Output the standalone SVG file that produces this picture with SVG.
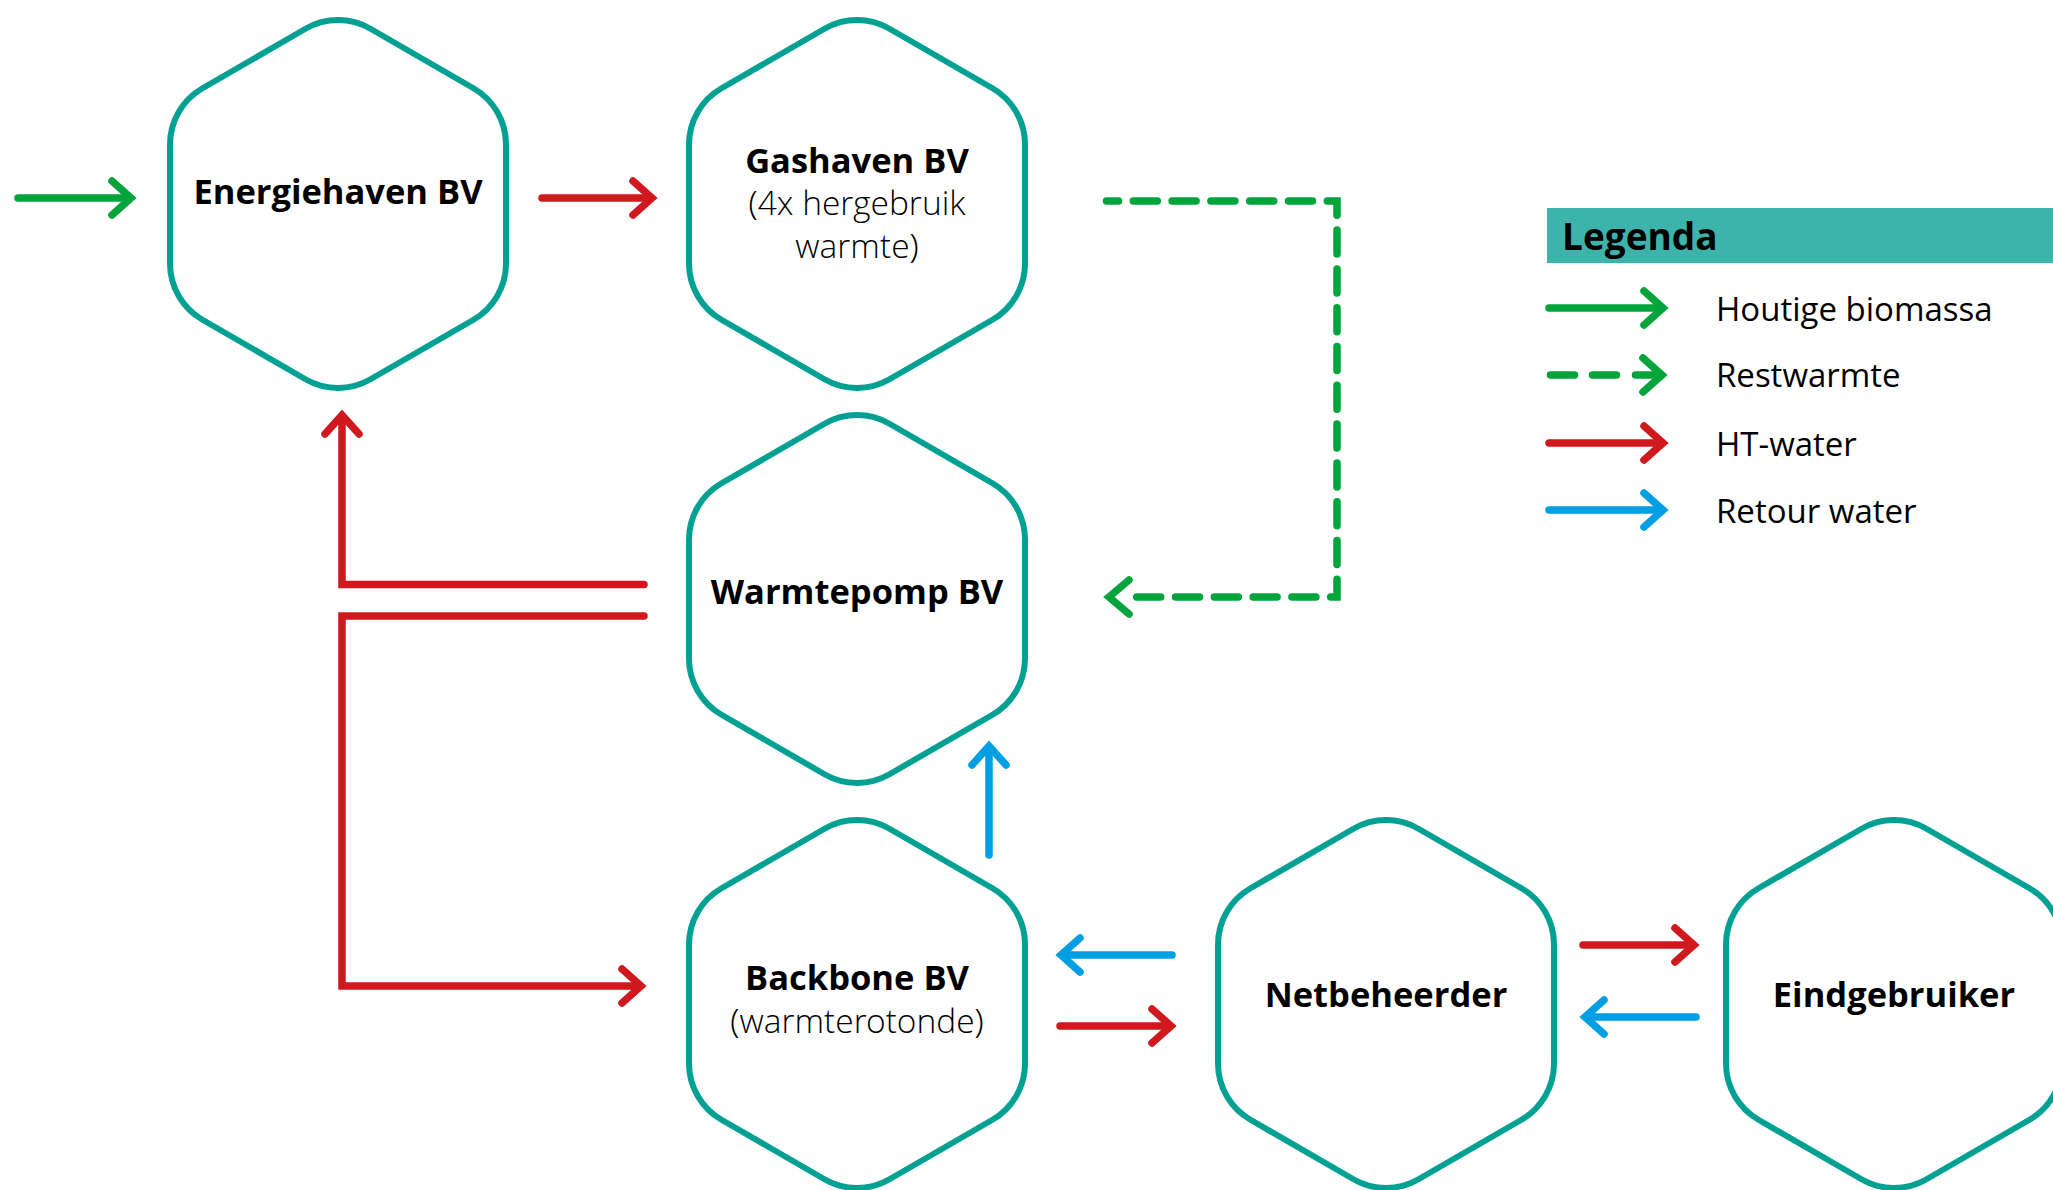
<svg xmlns="http://www.w3.org/2000/svg" xmlns:xlink="http://www.w3.org/1999/xlink" width="2053" height="1190" viewBox="0 0 2053 1190">
  <style>
    .hex { fill: #ffffff; stroke: #00A092; stroke-width: 6; }
    .name { font-family: "Open Sans", "Noto Sans", "Liberation Sans", sans-serif; font-weight: 700; font-size: 34.5px; fill: #000000; text-anchor: middle; }
    .sub { font-family: "Open Sans Light", "Open Sans", "Noto Sans", "Liberation Sans", sans-serif; font-weight: 300; font-size: 33.5px; fill: #000000; text-anchor: middle; }
    .leg { font-family: "Open Sans", "Noto Sans", "Liberation Sans", sans-serif; font-weight: 400; font-size: 33px; fill: #000000; }
    .legtitle { font-family: "Open Sans", "Noto Sans", "Liberation Sans", sans-serif; font-weight: 700; font-size: 37px; fill: #000000; }
    .ln { fill: none; stroke-width: 7.5; stroke-linecap: round; stroke-linejoin: miter; stroke-miterlimit: 10; }
    .green { stroke: #02A43B; }
    .red { stroke: #D0191E; }
    .blue { stroke: #009EE2; }
    .dash { stroke-dasharray: 24 14.8; stroke-dashoffset: 12; }
    .dashleg { stroke-dasharray: 24 18; }
  </style>
  <defs>
    <!-- regular hexagon, circumradius 194, rounded corners r=65 -->
    <path id="hexshape" d="M -32.5 -175.25 A 65 65 0 0 1 32.5 -175.25 L 135.5 -115.75 A 65 65 0 0 1 168 -59.5 L 168 59.5 A 65 65 0 0 1 135.5 115.75 L 32.5 175.25 A 65 65 0 0 1 -32.5 175.25 L -135.5 115.75 A 65 65 0 0 1 -168 59.5 L -168 -59.5 A 65 65 0 0 1 -135.5 -115.75 Z"/>
  </defs>

  <rect x="0" y="0" width="2053" height="1190" fill="#ffffff"/>

  <!-- nodes -->
  <g id="energiehaven">
    <use xlink:href="#hexshape" href="#hexshape" x="338" y="204" class="hex"/>
    <text class="name" x="338" y="204">Energiehaven BV</text>
  </g>
  <g id="gashaven">
    <use xlink:href="#hexshape" href="#hexshape" x="857" y="204" class="hex"/>
    <text class="name" x="857" y="173">Gashaven BV</text>
    <text class="sub" x="857" y="215">(4x hergebruik</text>
    <text class="sub" x="857" y="258">warmte)</text>
  </g>
  <g id="warmtepomp">
    <use xlink:href="#hexshape" href="#hexshape" x="857" y="599" class="hex"/>
    <text class="name" x="857" y="604">Warmtepomp BV</text>
  </g>
  <g id="backbone">
    <use xlink:href="#hexshape" href="#hexshape" x="857" y="1004" class="hex"/>
    <text class="name" x="857" y="990">Backbone BV</text>
    <text class="sub" x="857" y="1033">(warmterotonde)</text>
  </g>
  <g id="netbeheerder">
    <use xlink:href="#hexshape" href="#hexshape" x="1386" y="1004" class="hex"/>
    <text class="name" x="1386" y="1007">Netbeheerder</text>
  </g>
  <g id="eindgebruiker">
    <use xlink:href="#hexshape" href="#hexshape" x="1894" y="1004" class="hex"/>
    <text class="name" x="1894" y="1007">Eindgebruiker</text>
  </g>

  <!-- connectors -->
  <g id="connectors">
    <!-- biomass input -->
    <path class="ln green" d="M 18 198 H 130"/>
    <path class="ln green" d="M 112 181 L 131 198 L 112 215"/>
    <!-- Energiehaven -> Gashaven -->
    <path class="ln red" d="M 542 198 H 651"/>
    <path class="ln red" d="M 633 181 L 652 198 L 633 215"/>
    <!-- residual heat Gashaven -> Warmtepomp -->
    <path class="ln green dash" d="M 1106.5 201 H 1337 V 597 H 1131"/>
    <path class="ln green" d="M 1129 580 L 1109 597 L 1129 614"/>
    <!-- Warmtepomp -> Energiehaven -->
    <path class="ln red" d="M 644 584.5 H 342 V 416"/>
    <path class="ln red" d="M 325 434 L 342 415 L 359 434"/>
    <!-- Warmtepomp -> Backbone -->
    <path class="ln red" d="M 644 616 H 342 V 986 H 640"/>
    <path class="ln red" d="M 622 969 L 641 986 L 622 1003"/>
    <!-- Backbone -> Warmtepomp return -->
    <path class="ln blue" d="M 989 855 V 747"/>
    <path class="ln blue" d="M 972 765 L 989 746 L 1006 765"/>
    <!-- Netbeheerder -> Backbone return -->
    <path class="ln blue" d="M 1172 955 H 1063"/>
    <path class="ln blue" d="M 1080 938 L 1061 955 L 1080 972"/>
    <!-- Backbone -> Netbeheerder -->
    <path class="ln red" d="M 1060 1026 H 1170"/>
    <path class="ln red" d="M 1152 1009 L 1171 1026 L 1152 1043"/>
    <!-- Netbeheerder -> Eindgebruiker -->
    <path class="ln red" d="M 1583 945 H 1693"/>
    <path class="ln red" d="M 1675 928 L 1694 945 L 1675 962"/>
    <!-- Eindgebruiker -> Netbeheerder return -->
    <path class="ln blue" d="M 1696 1017 H 1586"/>
    <path class="ln blue" d="M 1604 1000 L 1585 1017 L 1604 1034"/>
  </g>

  <!-- legend -->
  <g id="legend">
    <rect x="1547" y="208" width="506" height="55" fill="#3CB4AB"/>
    <text class="legtitle" x="1562" y="250">Legenda</text>

    <path class="ln green" d="M 1549 308 H 1662"/>
    <path class="ln green" d="M 1644 291 L 1663 308 L 1644 325"/>
    <text class="leg" x="1716" y="321">Houtige biomassa</text>

    <path class="ln green dashleg" d="M 1550.5 375 H 1620"/>
    <path class="ln green" d="M 1635.5 375 H 1661"/>
    <path class="ln green" d="M 1643 358 L 1662 375 L 1643 392"/>
    <text class="leg" x="1716" y="387">Restwarmte</text>

    <path class="ln red" d="M 1549 443 H 1662"/>
    <path class="ln red" d="M 1644 426 L 1663 443 L 1644 460"/>
    <text class="leg" x="1716" y="456">HT-water</text>

    <path class="ln blue" d="M 1549 510 H 1662"/>
    <path class="ln blue" d="M 1644 493 L 1663 510 L 1644 527"/>
    <text class="leg" x="1716" y="523">Retour water</text>
  </g>
</svg>
